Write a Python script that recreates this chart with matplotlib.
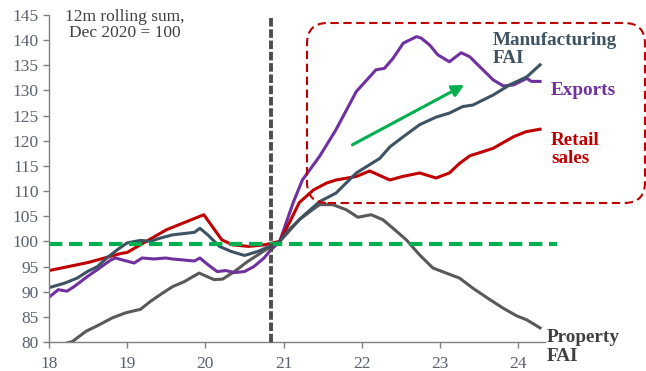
import matplotlib
matplotlib.use("Agg")
import matplotlib.pyplot as plt
from matplotlib.patches import FancyBboxPatch

# 12m rolling sums, rebased Dec 2020 = 100 (x = decimal year, 18 = 2018)
retail_t = [18.0, 18.5, 18.92, 19.0, 19.5, 19.98, 20.21, 20.35, 20.55, 20.75, 20.95,
            21.08, 21.2, 21.38, 21.55, 21.67, 21.93, 22.1, 22.36, 22.52, 22.74, 22.95,
            23.12, 23.25, 23.38, 23.68, 23.94, 24.1, 24.28]
retail_v = [94.2, 95.8, 97.6, 97.8, 102.3, 105.3, 100.3, 99.3, 99.0, 99.3, 100.0,
            103.9, 107.7, 110.2, 111.6, 112.2, 112.9, 114.0, 112.2, 112.9, 113.6, 112.6,
            113.6, 115.5, 117.0, 118.5, 120.8, 121.8, 122.3]

manuf_t = [18.0, 18.2, 18.36, 18.49, 18.62, 18.74, 18.87, 19.0, 19.17, 19.3, 19.41,
           19.58, 19.86, 19.93, 20.03, 20.18, 20.33, 20.5, 20.67, 20.82, 20.95,
           21.07, 21.24, 21.46, 21.67, 21.93, 22.23, 22.36, 22.53, 22.74, 22.95,
           23.12, 23.29, 23.42, 23.68, 23.89, 24.11, 24.28]
manuf_v = [90.8, 91.7, 92.7, 94.0, 95.0, 96.7, 98.3, 99.7, 100.2, 100.0, 100.6,
           101.3, 101.8, 102.6, 101.3, 99.0, 98.0, 97.2, 98.0, 99.0, 100.0,
           102.3, 104.9, 107.9, 109.6, 113.6, 116.5, 118.8, 120.8, 123.2, 124.7,
           125.5, 126.8, 127.1, 129.1, 131.1, 132.7, 135.1]

exports_t = [18.0, 18.12, 18.23, 18.32, 18.49, 18.62, 18.7, 18.79, 18.85, 18.94, 19.09,
             19.19, 19.34, 19.49, 19.58, 19.86, 19.93, 20.03, 20.15, 20.26, 20.37,
             20.5, 20.62, 20.75, 20.82, 20.95, 21.12, 21.24, 21.46, 21.67, 21.93,
             22.1, 22.18, 22.29, 22.4, 22.53, 22.7, 22.76, 22.87, 22.97, 23.12,
             23.27, 23.38, 23.51, 23.68, 23.81, 23.94, 24.11, 24.17, 24.28]
exports_v = [88.9, 90.4, 90.1, 91.0, 93.0, 94.4, 95.3, 96.3, 96.7, 96.3, 95.7,
             96.7, 96.5, 96.7, 96.5, 96.1, 96.7, 95.4, 94.0, 94.2, 93.8,
             94.0, 95.0, 96.7, 98.0, 100.0, 107.6, 112.2, 116.9, 122.2, 129.8,
             132.7, 134.1, 134.4, 136.4, 139.4, 140.7, 140.4, 139.0, 137.1, 135.7,
             137.5, 136.7, 134.7, 132.1, 130.9, 131.1, 132.4, 131.8, 131.8]

property_t = [18.23, 18.3, 18.47, 18.64, 18.81, 18.98, 19.17, 19.3, 19.45, 19.58, 19.73,
              19.92, 20.11, 20.22, 20.37, 20.54, 20.71, 20.84, 20.95, 21.08, 21.2, 21.37,
              21.46, 21.63, 21.8, 21.95, 22.12, 22.27, 22.4, 22.57, 22.74, 22.91,
              23.08, 23.25, 23.42, 23.64, 23.81, 23.98, 24.11, 24.28]
property_v = [79.8, 80.1, 82.1, 83.4, 84.8, 85.8, 86.5, 88.1, 89.7, 91.0, 92.0,
              93.7, 92.4, 92.5, 94.0, 96.0, 97.7, 99.0, 100.0, 102.2, 104.3, 106.3,
              107.3, 107.3, 106.3, 104.8, 105.3, 104.3, 102.6, 100.3, 97.3, 94.7,
              93.7, 92.7, 90.7, 88.4, 86.7, 85.2, 84.4, 82.8]

year_ticks = [18, 19, 20, 21, 22, 23, 24]
year_labels = ["18", "19", "20", "21", "22", "23", "24"]
y_ticks = list(range(80, 146, 5))

base_date = 20.84      # Dec 2020 rebasing point
ref_level = 99.4
arrow_from = (21.88, 119.2)
arrow_to = (23.31, 131.1)

c_retail = "#c00000"
c_manuf = "#3d5263"
c_exports = "#7030a0"
c_property = "#595959"
c_green = "#00b050"
c_text = "#5a6270"

plt.rcParams["font.family"] = ["Liberation Serif", "DejaVu Serif"]

fig = plt.figure(figsize=(6.46, 3.71), dpi=100)
ax = fig.add_axes([49 / 646, 1 - 342 / 371, 496 / 646, 327 / 371])

ax.plot(property_t, property_v, color=c_property, lw=2.2)
ax.plot(exports_t, exports_v, color=c_exports, lw=2.2)
ax.plot(retail_t, retail_v, color=c_retail, lw=2.2)
ax.plot(manuf_t, manuf_v, color=c_manuf, lw=2.2)

ax.set_xlim(18, 18 + 496 / 78.2)
ax.set_ylim(80, 145)

# reference lines
ax.plot([18, 24.5], [ref_level, ref_level], color=c_green, lw=3.0,
        dashes=(3.2, 1.6), clip_on=False, zorder=5)
ax.plot([base_date, base_date], [144.4, 79.6], color="#4d4d4d", lw=2.8,
        dashes=(2.2, 0.7), clip_on=False, zorder=6)

ax.annotate("", xy=arrow_to, xytext=arrow_from,
            arrowprops=dict(arrowstyle="-|>,head_length=0.7,head_width=0.35",
                            color=c_green, lw=2.2, shrinkA=0, shrinkB=0))

# highlight box around the post-2021 period
box = FancyBboxPatch((307 / 646, 1 - 203 / 371), 338 / 646, 180 / 371,
                     boxstyle="round,pad=0,rounding_size=0.032",
                     mutation_aspect=646 / 371, transform=fig.transFigure,
                     fill=False, edgecolor=c_retail, lw=1.5, ls=(0, (4, 2.2)))
fig.patches.append(box)

for s in ["top", "right"]:
    ax.spines[s].set_visible(False)
for s in ["left", "bottom"]:
    ax.spines[s].set_color("#808080")
    ax.spines[s].set_linewidth(1.0)

ax.set_xticks(year_ticks)
ax.set_xticklabels(year_labels)
ax.set_yticks(y_ticks)
ax.tick_params(axis="both", direction="out", length=4, width=1, color="#808080",
               labelcolor=c_text, labelsize=12.5)
ax.tick_params(axis="x", pad=6)

ax.text(18.97, 143.1, "12m rolling sum,\nDec 2020 = 100", ha="center", va="center",
        fontsize=12.5, color="#404040", linespacing=1.0)
ax.text(23.67, 138.2, "Manufacturing\nFAI", ha="left", va="center", fontsize=13.8,
        fontweight="bold", color=c_manuf, linespacing=1.1, clip_on=False)
ax.text(24.41, 129.9, "Exports", ha="left", va="center", fontsize=13.8,
        fontweight="bold", color=c_exports, clip_on=False)
ax.text(24.42, 118.2, "Retail\nsales", ha="left", va="center", fontsize=13.8,
        fontweight="bold", color=c_retail, linespacing=1.1, clip_on=False)
ax.text(24.36, 79.0, "Property\nFAI", ha="left", va="center", fontsize=13.8,
        fontweight="bold", color="#404040", linespacing=1.1, clip_on=False)

fig.savefig("out.png", dpi=100)
